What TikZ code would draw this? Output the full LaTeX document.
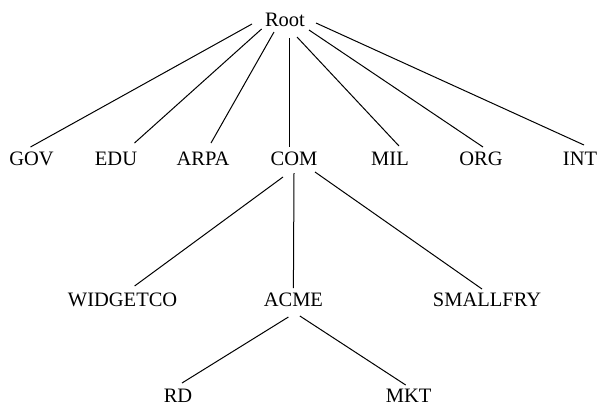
\documentclass[tikz,border=0pt]{standalone}
\usepackage{fontspec}
\setmainfont{Liberation Serif}
\begin{document}
\begin{tikzpicture}[x=1pt,y=-1pt,
  lbl/.style={inner sep=0pt,text height=13.6pt,text depth=0pt,anchor=center,font=\fontsize{20.5}{22}\selectfont},
  edge/.style={line width=1pt,black}]
\useasboundingbox (0,0) rectangle (599,405);
\node[lbl] (root) at (285,20) {Root};
\node[lbl] (gov) at (31.5,159) {GOV};
\node[lbl] (edu) at (116,159) {EDU};
\node[lbl] (arpa) at (203,159) {ARPA};
\node[lbl] (com) at (294,159) {COM};
\node[lbl] (mil) at (390,159) {MIL};
\node[lbl] (org) at (481,159) {ORG};
\node[lbl] (int) at (580,159) {INT};
\node[lbl] (widget) at (122.6,300) {WIDGETCO};
\node[lbl] (acme) at (293.4,300) {ACME};
\node[lbl] (small) at (487,300) {SMALLFRY};
\node[lbl] (rd) at (178,395.5) {RD};
\node[lbl] (mkt) at (408.7,395.5) {MKT};
\draw[edge] ([shift={(-33,4)}]root.center) -- ([shift={(-1,-12)}]gov.center);
\draw[edge] ([shift={(-23.4,9)}]root.center) -- ([shift={(18.5,-16)}]edu.center);
\draw[edge] ([shift={(-11,12)}]root.center) -- ([shift={(8,-16)}]arpa.center);
\draw[edge] ([shift={(4,18)}]root.center) -- ([shift={(-5,-12)}]com.center);
\draw[edge] ([shift={(12,17)}]root.center) -- ([shift={(9,-13)}]mil.center);
\draw[edge] ([shift={(24,10)}]root.center) -- ([shift={(2,-12)}]org.center);
\draw[edge] ([shift={(31,3)}]root.center) -- ([shift={(4,-14)}]int.center);
\draw[edge] ([shift={(-11,18)}]com.center) -- ([shift={(12,-14)}]widget.center);
\draw[edge] ([shift={(0,14)}]com.center) -- ([shift={(0,-12)}]acme.center);
\draw[edge] ([shift={(21,13)}]com.center) -- ([shift={(-5,-11)}]small.center);
\draw[edge] ([shift={(-5,17)}]acme.center) -- ([shift={(4,-12.5)}]rd.center);
\draw[edge] ([shift={(6.5,16)}]acme.center) -- ([shift={(-3,-10.5)}]mkt.center);
\end{tikzpicture}
\end{document}
